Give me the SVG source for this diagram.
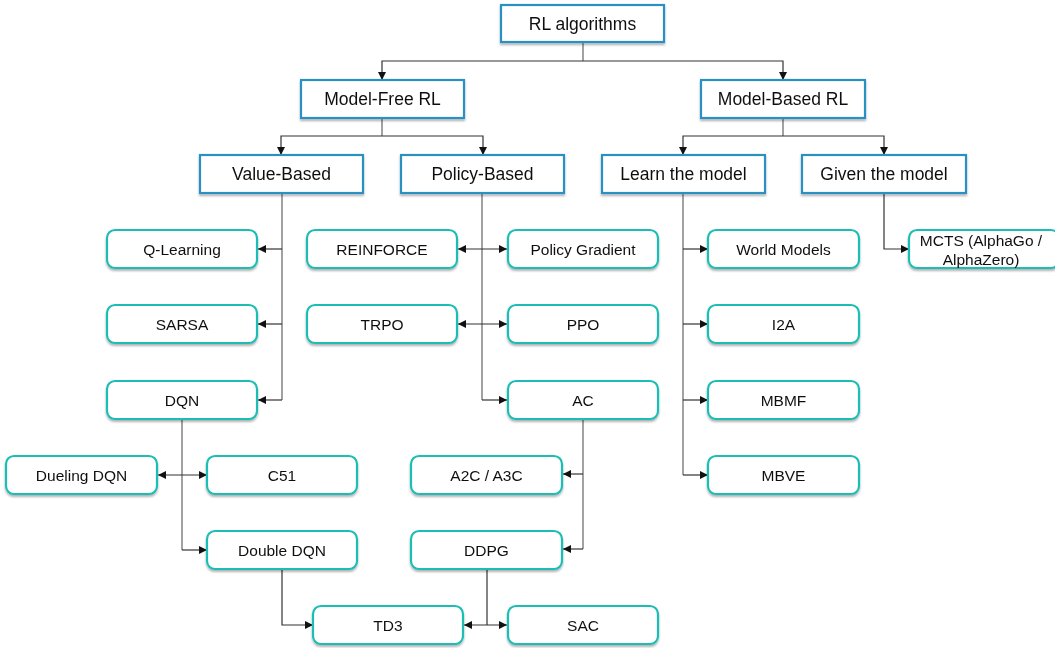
<svg xmlns="http://www.w3.org/2000/svg" width="1055" height="648" viewBox="0 0 1055 648">
<style>
.sq{fill:#fff;stroke:#2a8fc1;stroke-width:2.2}
.rd{fill:#fff;stroke:#1fbdb5;stroke-width:2.2}
.t1{font-family:"Liberation Sans",Arial,sans-serif;font-size:17.5px;fill:#111;text-anchor:middle;dominant-baseline:central}
.t2{font-family:"Liberation Sans",Arial,sans-serif;font-size:15.5px;fill:#111;text-anchor:middle;dominant-baseline:central}
.c{fill:none;stroke:#333;stroke-width:1.2}
.s{fill:none;stroke:#7a7a7a;stroke-width:1.4}
</style>
<defs>
<filter id="sh" x="-10%" y="-20%" width="120%" height="150%">
<feDropShadow dx="0" dy="2" stdDeviation="1.2" flood-color="#000" flood-opacity="0.3"/>
</filter>
<marker id="a" viewBox="0 0 10 10" refX="10" refY="5" markerWidth="9" markerHeight="8" markerUnits="userSpaceOnUse" orient="auto-start-reverse">
<path d="M0,0 L10,5 L0,10 z" fill="#111"/>
</marker>
</defs>
<g id="connectors">
<path class="s" d="M583,42 V61"/>
<path class="c" d="M583,61 H382 V80" marker-end="url(#a)"/>
<path class="c" d="M583,61 H783 V80" marker-end="url(#a)"/>
<path class="s" d="M382,118 V136"/>
<path class="c" d="M382,136 H281 V155" marker-end="url(#a)"/>
<path class="c" d="M382,136 H483 V155" marker-end="url(#a)"/>
<path class="s" d="M783,118 V136"/>
<path class="c" d="M783,136 H683 V155" marker-end="url(#a)"/>
<path class="c" d="M783,136 H884 V155" marker-end="url(#a)"/>
<path class="s" d="M282,193 V400"/>
<path class="c" d="M282,249 H258" marker-end="url(#a)"/>
<path class="c" d="M282,324 H258" marker-end="url(#a)"/>
<path class="c" d="M282,400 H258" marker-end="url(#a)"/>
<path class="s" d="M482,193 V400"/>
<path class="c" d="M458,249 H507" marker-start="url(#a)" marker-end="url(#a)"/>
<path class="c" d="M458,324 H507" marker-start="url(#a)" marker-end="url(#a)"/>
<path class="c" d="M482,400 H507" marker-end="url(#a)"/>
<path class="s" d="M182,419 V550"/>
<path class="c" d="M158,475 H207" marker-start="url(#a)" marker-end="url(#a)"/>
<path class="c" d="M182,550 H207" marker-end="url(#a)"/>
<path class="c" d="M282,569 V625 H313" marker-end="url(#a)"/>
<path class="s" d="M583,419 V549"/>
<path class="c" d="M583,474 H563" marker-end="url(#a)"/>
<path class="c" d="M583,549 H563" marker-end="url(#a)"/>
<path class="c" d="M487,569 V625"/>
<path class="c" d="M464,625 H507" marker-start="url(#a)" marker-end="url(#a)"/>
<path class="s" d="M683,193 V475"/>
<path class="c" d="M683,249 H708" marker-end="url(#a)"/>
<path class="c" d="M683,324 H708" marker-end="url(#a)"/>
<path class="c" d="M683,400 H708" marker-end="url(#a)"/>
<path class="c" d="M683,475 H708" marker-end="url(#a)"/>
<path class="c" d="M884,193 V249 H909" marker-end="url(#a)"/>
</g>
<g id="rl-algorithms" filter="url(#sh)"><rect class="sq" x="501" y="5" width="163" height="37"/><text class="t1" x="582.5" y="23.5">RL algorithms</text></g>
<g id="model-free" filter="url(#sh)"><rect class="sq" x="301" y="80" width="163" height="38"/><text class="t1" x="382.5" y="99">Model-Free RL</text></g>
<g id="model-based" filter="url(#sh)"><rect class="sq" x="701" y="80" width="164" height="38"/><text class="t1" x="783" y="99">Model-Based RL</text></g>
<g id="value-based" filter="url(#sh)"><rect class="sq" x="200" y="155" width="163" height="38"/><text class="t1" x="281.5" y="174">Value-Based</text></g>
<g id="policy-based" filter="url(#sh)"><rect class="sq" x="401" y="155" width="163" height="38"/><text class="t1" x="482.5" y="174">Policy-Based</text></g>
<g id="learn-model" filter="url(#sh)"><rect class="sq" x="602" y="155" width="163" height="38"/><text class="t1" x="683.5" y="174">Learn the model</text></g>
<g id="given-model" filter="url(#sh)"><rect class="sq" x="802" y="155" width="164" height="38"/><text class="t1" x="884" y="174">Given the model</text></g>
<g id="q-learning" filter="url(#sh)"><rect class="rd" x="107" y="230" width="150" height="38" rx="8"/><text class="t2" x="182" y="249">Q-Learning</text></g>
<g id="sarsa" filter="url(#sh)"><rect class="rd" x="107" y="305" width="150" height="38" rx="8"/><text class="t2" x="182" y="324">SARSA</text></g>
<g id="dqn" filter="url(#sh)"><rect class="rd" x="107" y="381" width="150" height="38" rx="8"/><text class="t2" x="182" y="400">DQN</text></g>
<g id="reinforce" filter="url(#sh)"><rect class="rd" x="307" y="230" width="150" height="38" rx="8"/><text class="t2" x="382" y="249">REINFORCE</text></g>
<g id="policy-gradient" filter="url(#sh)"><rect class="rd" x="508" y="230" width="150" height="38" rx="8"/><text class="t2" x="583" y="249">Policy Gradient</text></g>
<g id="trpo" filter="url(#sh)"><rect class="rd" x="307" y="305" width="150" height="38" rx="8"/><text class="t2" x="382" y="324">TRPO</text></g>
<g id="ppo" filter="url(#sh)"><rect class="rd" x="508" y="305" width="150" height="38" rx="8"/><text class="t2" x="583" y="324">PPO</text></g>
<g id="ac" filter="url(#sh)"><rect class="rd" x="508" y="381" width="150" height="38" rx="8"/><text class="t2" x="583" y="400">AC</text></g>
<g id="dueling-dqn" filter="url(#sh)"><rect class="rd" x="6" y="456" width="151" height="38" rx="8"/><text class="t2" x="81.5" y="475">Dueling DQN</text></g>
<g id="c51" filter="url(#sh)"><rect class="rd" x="207" y="456" width="150" height="38" rx="8"/><text class="t2" x="282" y="475">C51</text></g>
<g id="double-dqn" filter="url(#sh)"><rect class="rd" x="207" y="531" width="150" height="38" rx="8"/><text class="t2" x="282" y="550">Double DQN</text></g>
<g id="td3" filter="url(#sh)"><rect class="rd" x="313" y="606" width="150" height="38" rx="8"/><text class="t2" x="388" y="625">TD3</text></g>
<g id="a2c-a3c" filter="url(#sh)"><rect class="rd" x="411" y="456" width="151" height="38" rx="8"/><text class="t2" x="486.5" y="475">A2C / A3C</text></g>
<g id="ddpg" filter="url(#sh)"><rect class="rd" x="411" y="531" width="151" height="38" rx="8"/><text class="t2" x="486.5" y="550">DDPG</text></g>
<g id="sac" filter="url(#sh)"><rect class="rd" x="508" y="606" width="150" height="38" rx="8"/><text class="t2" x="583" y="625">SAC</text></g>
<g id="world-models" filter="url(#sh)"><rect class="rd" x="708" y="230" width="151" height="38" rx="8"/><text class="t2" x="783.5" y="249">World Models</text></g>
<g id="i2a" filter="url(#sh)"><rect class="rd" x="708" y="305" width="151" height="38" rx="8"/><text class="t2" x="783.5" y="324">I2A</text></g>
<g id="mbmf" filter="url(#sh)"><rect class="rd" x="708" y="381" width="151" height="38" rx="8"/><text class="t2" x="783.5" y="400">MBMF</text></g>
<g id="mbve" filter="url(#sh)"><rect class="rd" x="708" y="456" width="151" height="38" rx="8"/><text class="t2" x="783.5" y="475">MBVE</text></g>
<g id="mcts" filter="url(#sh)"><rect class="rd" x="909" y="230" width="150" height="38" rx="8"/><text class="t2" x="981" y="240">MCTS (AlphaGo /</text><text class="t2" x="981" y="259">AlphaZero)</text></g>
</svg>
